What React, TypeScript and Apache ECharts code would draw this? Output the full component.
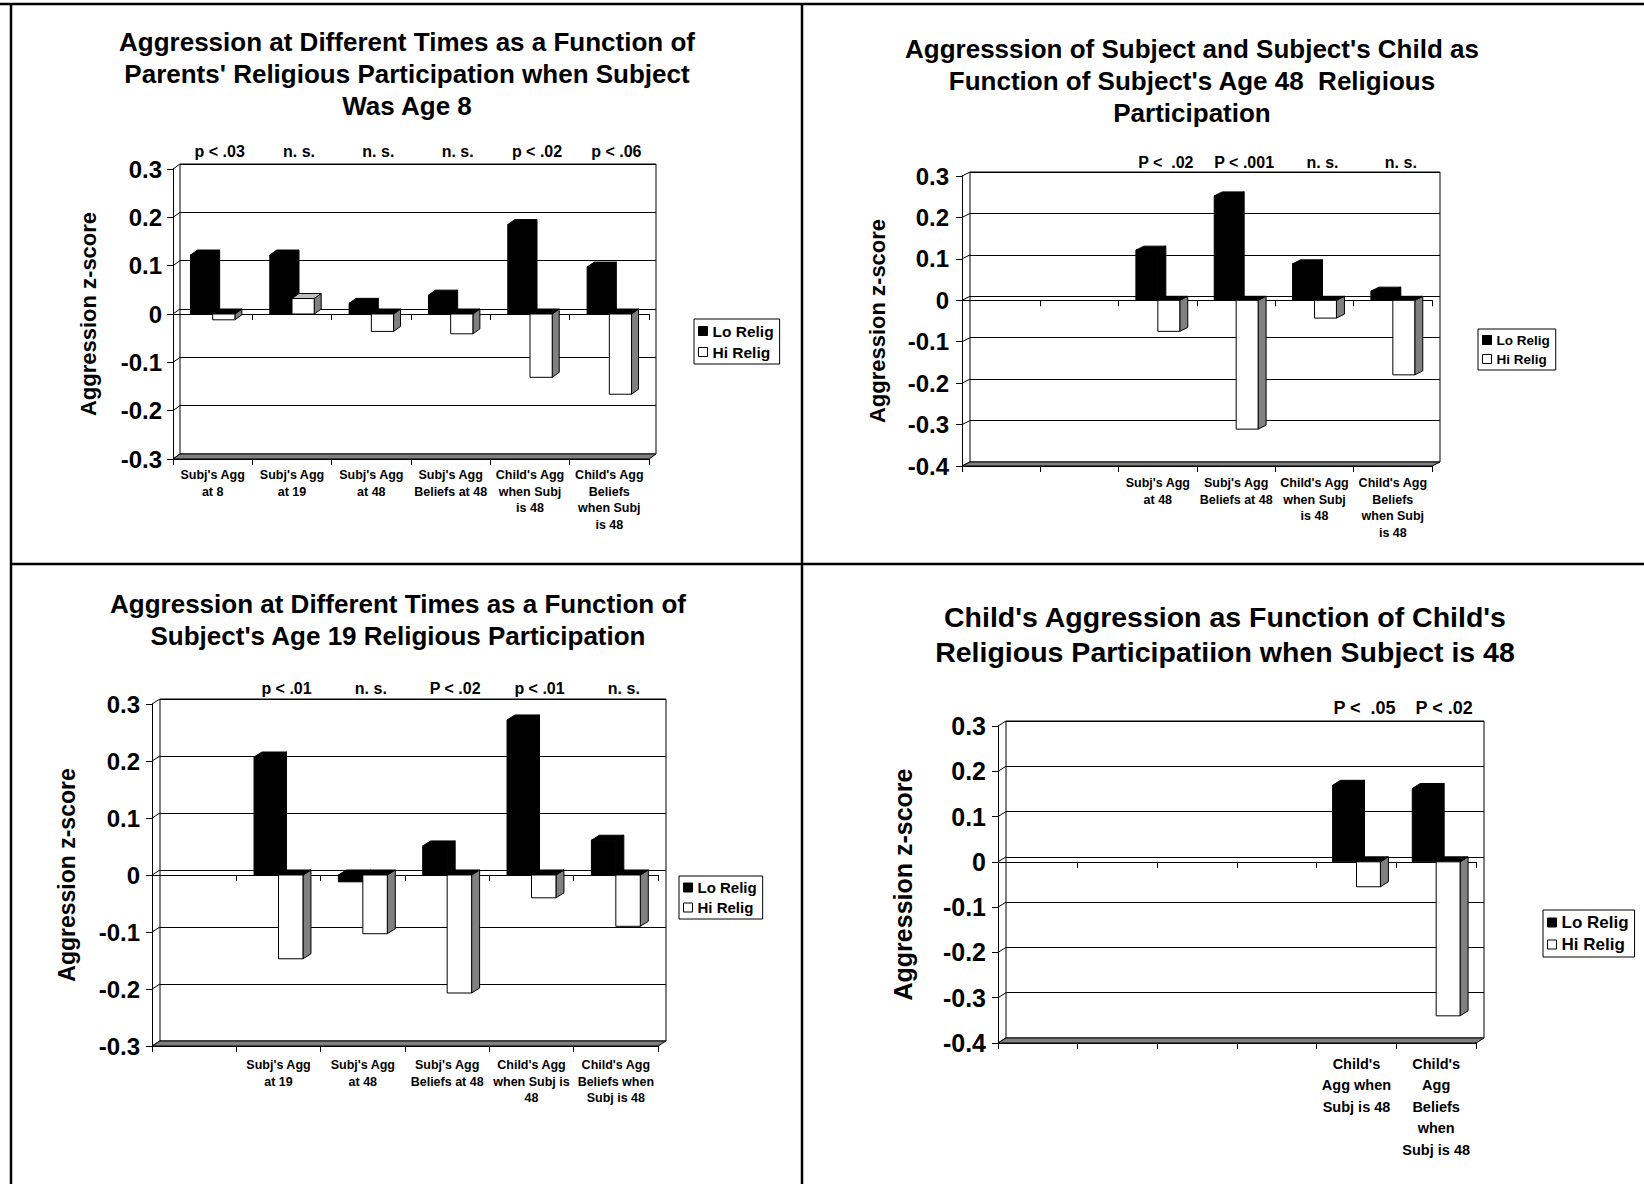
import React, { useEffect, useRef } from "react";
import * as echarts from "echarts";

const FONT = '"Liberation Sans", Arial, Helvetica, sans-serif';

// ---------- Panel 1 ----------
const P1_TITLE = "Aggression at Different Times as a Function of\nParents' Religious Participation when Subject\nWas Age 8";
const P1_CATEGORIES = [
  "Subj's Agg\nat 8",
  "Subj's Agg\nat 19",
  "Subj's Agg\nat 48",
  "Subj's Agg\nBeliefs at 48",
  "Child's Agg\nwhen Subj\nis 48",
  "Child's Agg\nBeliefs\nwhen Subj\nis 48",
];
const P1_PVALUES = ["p < .03", "n. s.", "n. s.", "n. s.", "p < .02", "p < .06"];
const P1_LO = [0.122, 0.122, 0.022, 0.039, 0.185, 0.097];
const P1_HI = [-0.012, 0.032, -0.036, -0.041, -0.131, -0.166];
const P1_TICKS = [-0.3, -0.2, -0.1, 0, 0.1, 0.2, 0.3];

// ---------- Panel 2 ----------
const P2_TITLE = "Aggresssion of Subject and Subject's Child as\nFunction of Subject's Age 48  Religious\nParticipation";
const P2_CATEGORIES = [
  "",
  "",
  "Subj's Agg\nat 48",
  "Subj's Agg\nBeliefs at 48",
  "Child's Agg\nwhen Subj\nis 48",
  "Child's Agg\nBeliefs\nwhen Subj\nis 48",
];
const P2_PVALUES = ["", "", "P <  .02", "P < .001", "n. s.", "n. s."];
const P2_LO = [null, null, 0.121, 0.252, 0.088, 0.022];
const P2_HI = [null, null, -0.075, -0.311, -0.043, -0.18];
const P2_TICKS = [-0.4, -0.3, -0.2, -0.1, 0, 0.1, 0.2, 0.3];

// ---------- Panel 3 ----------
const P3_TITLE = "Aggression at Different Times as a Function of\nSubject's Age 19 Religious Participation";
const P3_CATEGORIES = [
  "",
  "Subj's Agg\nat 19",
  "Subj's Agg\nat 48",
  "Subj's Agg\nBeliefs at 48",
  "Child's Agg\nwhen Subj is\n48",
  "Child's Agg\nBeliefs when\nSubj is 48",
];
const P3_PVALUES = ["", "p < .01", "n. s.", "P < .02", "p < .01", "n. s."];
const P3_LO = [null, 0.207, -0.012, 0.051, 0.272, 0.061];
const P3_HI = [null, -0.147, -0.103, -0.207, -0.04, -0.09];
const P3_TICKS = [-0.3, -0.2, -0.1, 0, 0.1, 0.2, 0.3];

// ---------- Panel 4 ----------
const P4_TITLE = "Child's Aggression as Function of Child's\nReligious Participatiion when Subject is 48";
const P4_CATEGORIES = [
  "",
  "",
  "",
  "",
  "Child's\nAgg when\nSubj is 48",
  "Child's\nAgg\nBeliefs\nwhen\nSubj is 48",
];
const P4_PVALUES = ["", "", "", "", "P <  .05", "P < .02"];
const P4_LO = [null, null, null, null, 0.169, 0.162];
const P4_HI = [null, null, null, null, -0.055, -0.34];
const P4_TICKS = [-0.4, -0.3, -0.2, -0.1, 0, 0.1, 0.2, 0.3];

const SERIES_NAMES = ["Lo Relig", "Hi Relig"];
const Y_NAME = "Aggression z-score";

type Panel = {
  title: string; categories: string[]; pvalues: string[];
  lo: (number | null)[]; hi: (number | null)[]; ticks: number[];
  min: number; max: number;
  layout: {
    titleX: number; titleY: number; titleSize: number; titleLH: number;
    left: number; top: number; width: number; height: number; dx: number; dy: number;
    yLabelMargin: number; nameGap: number; nameSize: number; tickSize: number;
    catSize: number; catLH: number; catMargin: number; pSize: number; pMargin: number;
    legendLeft: number; legendTop: number; legendSize: number; barFrac: number;
  };
};

const PANELS: Panel[] = [
  {
    title: P1_TITLE, categories: P1_CATEGORIES, pvalues: P1_PVALUES, lo: P1_LO, hi: P1_HI, ticks: P1_TICKS,
    min: -0.3, max: 0.3,
    layout: {
      titleX: 407, titleY: 26, titleSize: 26, titleLH: 32,
      left: 173, top: 169, width: 476, height: 290, dx: 7, dy: 5,
      yLabelMargin: 11, nameGap: 74, nameSize: 22, tickSize: 24,
      catSize: 12.5, catLH: 16.5, catMargin: 8, pSize: 16, pMargin: 5,
      legendLeft: 694, legendTop: 319, legendSize: 15.5, barFrac: 0.28,
    },
  },
  {
    title: P2_TITLE, categories: P2_CATEGORIES, pvalues: P2_PVALUES, lo: P2_LO, hi: P2_HI, ticks: P2_TICKS,
    min: -0.4, max: 0.3,
    layout: {
      titleX: 1192, titleY: 33, titleSize: 26, titleLH: 32,
      left: 962, top: 176, width: 470, height: 290, dx: 8, dy: 4,
      yLabelMargin: 13, nameGap: 74, nameSize: 22, tickSize: 24,
      catSize: 12.5, catLH: 16.5, catMargin: 9, pSize: 16, pMargin: 2,
      legendLeft: 1478, legendTop: 329, legendSize: 13.5, barFrac: 0.28,
    },
  },
  {
    title: P3_TITLE, categories: P3_CATEGORIES, pvalues: P3_PVALUES, lo: P3_LO, hi: P3_HI, ticks: P3_TICKS,
    min: -0.3, max: 0.3,
    layout: {
      titleX: 398, titleY: 588, titleSize: 26, titleLH: 32,
      left: 152, top: 704, width: 506, height: 342, dx: 8, dy: 5,
      yLabelMargin: 12, nameGap: 74, nameSize: 23, tickSize: 24,
      catSize: 12.5, catLH: 16.5, catMargin: 11, pSize: 16, pMargin: 3,
      legendLeft: 679, legendTop: 876, legendSize: 15, barFrac: 0.29,
    },
  },
  {
    title: P4_TITLE, categories: P4_CATEGORIES, pvalues: P4_PVALUES, lo: P4_LO, hi: P4_HI, ticks: P4_TICKS,
    min: -0.4, max: 0.3,
    layout: {
      titleX: 1225, titleY: 600, titleSize: 28.5, titleLH: 34.6,
      left: 998, top: 726, width: 478, height: 317, dx: 8, dy: 5,
      yLabelMargin: 12, nameGap: 83, nameSize: 25, tickSize: 25,
      catSize: 14.5, catLH: 21.5, catMargin: 10, pSize: 18, pMargin: 4,
      legendLeft: 1543, legendTop: 910, legendSize: 17, barFrac: 0.3,
    },
  },
];

function barRenderer(isHi: boolean, dx: number, dy: number, frac: number) {
  return (params: any, api: any) => {
    const ci = api.value(0);
    const v = api.value(1);
    const p = api.coord([ci, v]);
    const z = api.coord([ci, 0]);
    const cw = api.size([1, 0])[0];
    const bw = cw * frac;
    const x0 = isHi ? p[0] : p[0] - bw;
    const x1 = x0 + bw;
    const yTop = Math.min(p[1], z[1]);
    const yBot = Math.max(p[1], z[1]);
    const frontFill = isHi ? "#ffffff" : "#000000";
    const topFill = isHi ? (v >= 0 ? "#c0c0c0" : "#000000") : "#000000";
    const sideFill = isHi ? "#808080" : "#000000";
    return {
      type: "group",
      children: [
        {
          type: "polygon",
          shape: { points: [[x1, yTop], [x1 + dx, yTop - dy], [x1 + dx, yBot - dy], [x1, yBot]] },
          style: { fill: sideFill, stroke: "#000", lineWidth: 1 },
        },
        {
          type: "polygon",
          shape: { points: [[x0, yTop], [x1, yTop], [x1 + dx, yTop - dy], [x0 + dx, yTop - dy]] },
          style: { fill: topFill, stroke: "#000", lineWidth: 1 },
        },
        {
          type: "rect",
          shape: { x: x0, y: yTop, width: bw, height: yBot - yTop },
          style: { fill: frontFill, stroke: "#000", lineWidth: 1 },
        },
      ],
    };
  };
}

function buildOption() {
  const grid: any[] = [];
  const xAxis: any[] = [];
  const yAxis: any[] = [];
  const series: any[] = [];
  const legend: any[] = [];
  const graphic: any[] = [];

  PANELS.forEach((pn, k) => {
    const L = pn.layout;
    const gF = 3 * k, gB = 3 * k + 1, gZ = 3 * k + 2;
    grid[gF] = { left: L.left, top: L.top, width: L.width, height: L.height, containLabel: false };
    grid[gB] = {
      left: L.left + L.dx, top: L.top - L.dy, width: L.width, height: L.height, containLabel: false,
      show: true, borderColor: "#000", borderWidth: 1, backgroundColor: "transparent",
    };
    grid[gZ] = { left: L.left, top: L.top, width: L.width, height: L.height, containLabel: false };

    xAxis[gF] = {
      type: "category", gridIndex: gF, data: pn.categories, position: "bottom",
      axisLine: { show: true, onZero: false, lineStyle: { color: "#000", width: 1 } },
      axisTick: { show: true, interval: 0, length: 6, lineStyle: { color: "#000" } },
      axisLabel: {
        interval: 0, margin: L.catMargin, color: "#000", fontFamily: FONT, fontWeight: "bold",
        fontSize: L.catSize, lineHeight: L.catLH, align: "center",
      },
      splitLine: { show: false },
    };
    yAxis[gF] = {
      type: "value", gridIndex: gF, min: pn.min, max: pn.max, interval: 0.1,
      name: Y_NAME, nameLocation: "middle", nameRotate: 90, nameGap: L.nameGap,
      nameTextStyle: { color: "#000", fontFamily: FONT, fontWeight: "bold", fontSize: L.nameSize },
      axisLine: { show: true, lineStyle: { color: "#000", width: 1 } },
      axisTick: { show: true, length: 6, lineStyle: { color: "#000" } },
      axisLabel: {
        margin: L.yLabelMargin, color: "#000", fontFamily: FONT, fontWeight: "bold", fontSize: L.tickSize,
        formatter: (v: number) => String(Math.round(v * 10) / 10),
      },
      splitLine: { show: false },
    };
    xAxis[gB] = {
      type: "category", gridIndex: gB, data: pn.pvalues, position: "top",
      axisLine: { show: false }, axisTick: { show: false }, splitLine: { show: false },
      axisLabel: {
        interval: 0, margin: L.pMargin, color: "#000", fontFamily: FONT, fontWeight: "bold", fontSize: L.pSize,
      },
    };
    yAxis[gB] = {
      type: "value", gridIndex: gB, min: pn.min, max: pn.max, interval: 0.1,
      axisLine: { show: false }, axisTick: { show: false }, axisLabel: { show: false },
      splitLine: { show: true, lineStyle: { color: "#000", width: 1 } },
    };
    xAxis[gZ] = {
      type: "category", gridIndex: gZ, data: pn.categories, position: "bottom",
      axisLine: { show: true, onZero: true, lineStyle: { color: "#000", width: 1 } },
      axisTick: { show: true, interval: 0, length: 6, lineStyle: { color: "#000" } },
      axisLabel: { show: false }, splitLine: { show: false },
    };
    yAxis[gZ] = {
      type: "value", gridIndex: gZ, min: pn.min, max: pn.max, interval: 0.1, show: false,
    };

    series.push({
      type: "custom", name: "wall" + k, xAxisIndex: gF, yAxisIndex: gF, silent: true, z: 1,
      data: pn.ticks.map((t) => [0, t]),
      renderItem: (params: any, api: any) => {
        const cs = params.coordSys;
        const y = api.coord([0, api.value(1)])[1];
        return {
          type: "line",
          shape: { x1: cs.x, y1: y, x2: cs.x + L.dx, y2: y - L.dy },
          style: { stroke: "#000", lineWidth: 1 },
        };
      },
    });
    series.push({
      type: "custom", name: "floor" + k, xAxisIndex: gF, yAxisIndex: gF, silent: true, z: 1,
      data: [[0, pn.min]],
      renderItem: (params: any, api: any) => {
        const cs = params.coordSys;
        const y = api.coord([0, api.value(1)])[1];
        const xl = cs.x, xr = cs.x + cs.width;
        return {
          type: "polygon",
          shape: { points: [[xl, y], [xr, y], [xr + L.dx, y - L.dy], [xl + L.dx, y - L.dy]] },
          style: { fill: "#808080", stroke: "#000", lineWidth: 1 },
        };
      },
    });
    const toData = (arr: (number | null)[]) =>
      arr.map((v, i) => (v == null ? null : [i, v])).filter((d) => d !== null);
    series.push({
      type: "custom", name: SERIES_NAMES[0], xAxisIndex: gF, yAxisIndex: gF, z: 3,
      itemStyle: { color: "#000", borderColor: "#000", borderWidth: 1 },
      data: toData(pn.lo),
      renderItem: barRenderer(false, L.dx, L.dy, L.barFrac),
    });
    series.push({
      type: "custom", name: SERIES_NAMES[1], xAxisIndex: gF, yAxisIndex: gF, z: 3,
      itemStyle: { color: "#fff", borderColor: "#000", borderWidth: 1 },
      data: toData(pn.hi),
      renderItem: barRenderer(true, L.dx, L.dy, L.barFrac),
    });

    legend.push({
      left: L.legendLeft, top: L.legendTop, orient: "vertical",
      borderColor: "#000", borderWidth: 1, borderRadius: 0,
      padding: [4, 6, 4, 4], itemGap: 5, itemWidth: 9, itemHeight: 9, icon: "rect",
      selectedMode: false,
      textStyle: { color: "#000", fontFamily: FONT, fontWeight: "bold", fontSize: L.legendSize },
      data: [
        { name: SERIES_NAMES[0], itemStyle: { color: "#000", borderColor: "#000", borderWidth: 1 } },
        { name: SERIES_NAMES[1], itemStyle: { color: "#fff", borderColor: "#000", borderWidth: 1 } },
      ],
    });

    graphic.push({
      type: "text", x: L.titleX, y: L.titleY, silent: true,
      style: {
        text: pn.title, fill: "#000", font: `bold ${L.titleSize}px ${FONT}`,
        fontFamily: FONT, fontWeight: "bold", fontSize: L.titleSize,
        align: "center", textAlign: "center", verticalAlign: "top", textVerticalAlign: "top",
        lineHeight: L.titleLH,
      },
    });
  });

  const frame = [
    { x1: 0, y1: 4, x2: 1644, y2: 4 },
    { x1: 11, y1: 3, x2: 11, y2: 1184 },
    { x1: 802, y1: 3, x2: 802, y2: 1184 },
    { x1: 11, y1: 564, x2: 1644, y2: 564 },
  ];
  frame.forEach((s) =>
    graphic.push({ type: "line", silent: true, shape: s, style: { stroke: "#000", lineWidth: 2.5 } })
  );

  return {
    animation: false,
    backgroundColor: "#ffffff",
    textStyle: { fontFamily: FONT },
    grid, xAxis, yAxis, series, legend, graphic,
  };
}

export default function App() {
  const ref = useRef<HTMLDivElement>(null);
  useEffect(() => {
    document.body.style.margin = "0";
    if (!ref.current) return;
    const chart = echarts.init(ref.current, undefined, { renderer: "svg" });
    chart.setOption(buildOption() as any);
    return () => chart.dispose();
  }, []);
  return <div ref={ref} style={{ width: 1644, height: 1184 }} />;
}
